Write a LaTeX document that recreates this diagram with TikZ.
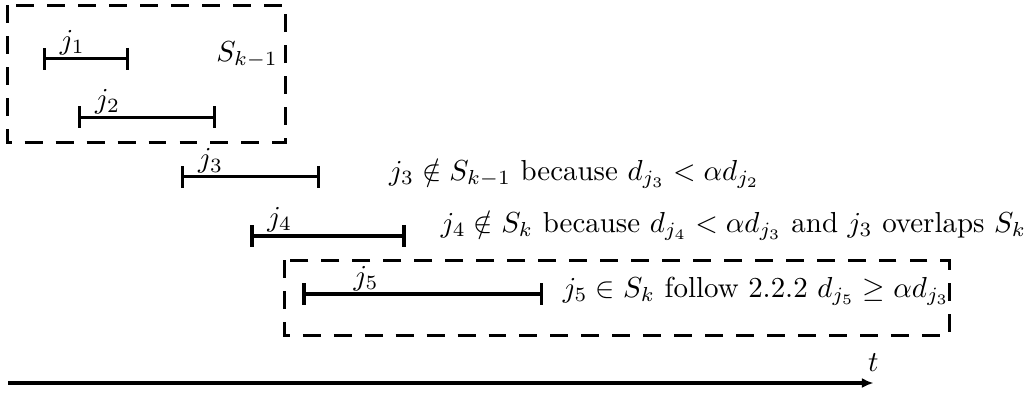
\documentclass[tikz,border=0pt]{standalone}
\usepackage{tikz}
\usetikzlibrary{arrows.meta}

\begin{document}
\begin{tikzpicture}[>=Stealth,
  interval/.style={line width=1pt,{Bar[width=7.5pt]}-{Bar[width=7.5pt]}},
  groupbox/.style={line width=1pt,dash pattern=on 6.2pt off 4.5pt},
  joblbl/.style={anchor=base west,inner sep=0pt,xshift=0.2cm,yshift=0.11cm},
  note/.style={anchor=base west,inner sep=0pt}]

\useasboundingbox (0,0) rectangle (12.5,4.763);

%% ── previous set S_{k-1} ────────────────────────────────────────────────────
\draw[groupbox] (0.09,4.70) rectangle (3.47,3.03);
\node[note] (Sprev) at (2.62,4.02) {$S_{k-1}$};

\draw[interval] (0.52,4.05) -- (1.57,4.05);
\node[joblbl] (j1) at (0.52,4.05) {$j_1$};
\draw[interval] (0.95,3.34) -- (2.62,3.34);
\node[joblbl] (j2) at (0.95,3.34) {$j_2$};

%% ── rejected jobs ───────────────────────────────────────────────────────────
\draw[interval] (2.20,2.616) -- (3.89,2.616);
\node[joblbl] (j3) at (2.20,2.616) {$j_3$};
\node[note] (note3) at (4.72,2.576)
  {$j_3\notin S_{k-1}$ because $d_{j_3}<\alpha d_{j_2}$};

\draw[interval,line width=1.3pt] (3.04,1.90) -- (4.93,1.90);
\node[joblbl] (j4) at (3.04,1.90) {$j_4$};
\node[note] (note4) at (5.35,1.944)
  {$j_4\notin S_k$ because $d_{j_4}<\alpha d_{j_3}$ and $j_3$ overlaps $S_k$};

%% ── current set S_k ─────────────────────────────────────────────────────────
\draw[groupbox] (3.46,1.60) rectangle (11.53,0.69);
\draw[interval,line width=1.3pt] (3.67,1.19) -- (6.60,1.19);
\node[joblbl,xshift=0.42cm] (j5) at (3.67,1.19) {$j_5$};
\node[note] (note5) at (6.83,1.154)
  {$j_5\in S_k$ follow 2.2.2 $d_{j_5}\geq\alpha d_{j_3}$};

%% ── time axis ───────────────────────────────────────────────────────────────
\draw[line width=1.1pt,-{Latex[length=4pt,width=3.5pt]}] (0.10,0.11) -- (10.61,0.11)
  node[above] (tlbl) {$t$};

\end{tikzpicture}
\end{document}
